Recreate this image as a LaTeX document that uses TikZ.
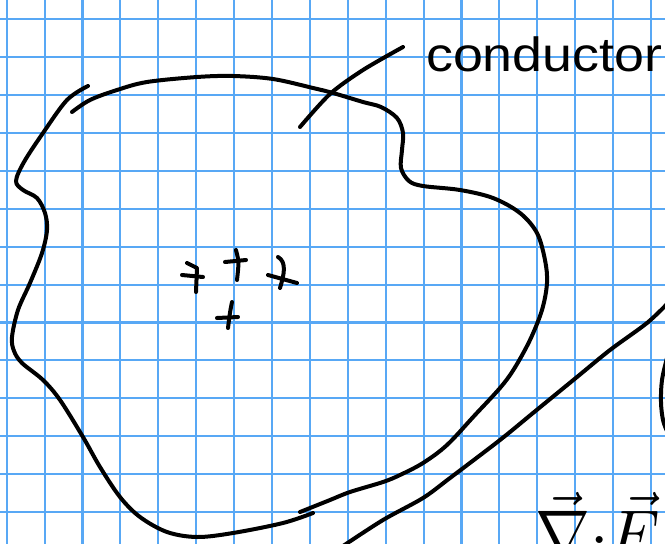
\documentclass[tikz,border=0pt]{standalone}
\usepackage{fontspec}
\setmainfont{Liberation Sans}
\definecolor{gridblue}{RGB}{88,168,245}
\begin{document}
\begin{tikzpicture}[x=1pt,y=-1pt,
  ink/.style={line width=4pt,line cap=round,line join=round,black},
  gridline/.style={line width=2.1pt,gridblue}]
\useasboundingbox (0,0) rectangle (665,544);
\clip (0,0) rectangle (665,544);
\fill[white] (0,0) rectangle (665,544);
% grid
\foreach \i in {0,...,17} {
  \draw[gridline] (6.7+37.9*\i,0) -- (6.7+37.9*\i,544);
}
\foreach \j in {0,...,14} {
  \draw[gridline] (0,19.3+37.9*\j) -- (665,19.3+37.9*\j);
}
% conductor outline, left stroke
\draw[ink] plot[smooth,tension=0.55] coordinates {
 (88,86) (67,100) (43,133) (24,162) (16,181) (23,190) (37,198) (45,213) (47,230)
 (42,253) (30,283) (18,310) (12,337) (14,351) (22,363) (43,380) (60,400) (83,437)
 (100,467) (120,497) (140,517) (167,532) (197,537) (233,533) (283,523) (313,513)};
% conductor outline, right/top stroke
\draw[ink] plot[smooth,tension=0.55] coordinates {
 (300,512) (330,500) (350,492) (383,482) (400,475) (423,463) (447,445) (475,415)
 (500,388) (514,369) (530,340) (542,310) (547,283) (545,260) (537,233) (520,213)
 (493,198) (460,190) (423,186) (409,181) (401,168) (402,150) (403,133) (397,118)
 (381,107) (363,102) (333,93) (313,88) (273,79) (233,76) (197,77) (147,82)
 (117,90) (90,100) (72,112)};
% leader line to label
\draw[ink] plot[smooth,tension=0.5] coordinates {(300,127) (330,94) (363,70) (403,47)};
\node[anchor=base west,inner sep=0pt,xscale=1.12,font=\fontsize{48}{48}\selectfont] (label) at (426,71) {conductor};
% charges
\draw[ink] (187,263) -- (197,268) -- (196,292);
\draw[ink] (182,275) -- (203,277);
\draw[ink] (236,250) .. controls (239,262) .. (237,280);
\draw[ink] (225,262) -- (246,260);
\draw[ink] (278,257) .. controls (287,262) and (284,275) .. (280,288);
\draw[ink] (268,275) -- (297,283);
\draw[ink] (232,302) .. controls (230,312) .. (228,328);
\draw[ink] (217,318) -- (238,317);
% diagonal line
\draw[ink] plot[smooth,tension=0.5] coordinates {
 (343,546) (383,520) (423,498) (450,478) (500,440) (533,413) (577,377) (610,350) (647,323) (668,303)};
% partial bracket at right edge
\draw[ink] plot[smooth,tension=0.6] coordinates {(667,358) (662,380) (661,402) (663,420) (667,431)};
% divergence expression, cut by the lower edge
\node[anchor=base west,inner sep=0pt,scale=6.6] (divf) at (534,556) {$\vec{\nabla}{\cdot}\vec{F}$};
\end{tikzpicture}
\end{document}
